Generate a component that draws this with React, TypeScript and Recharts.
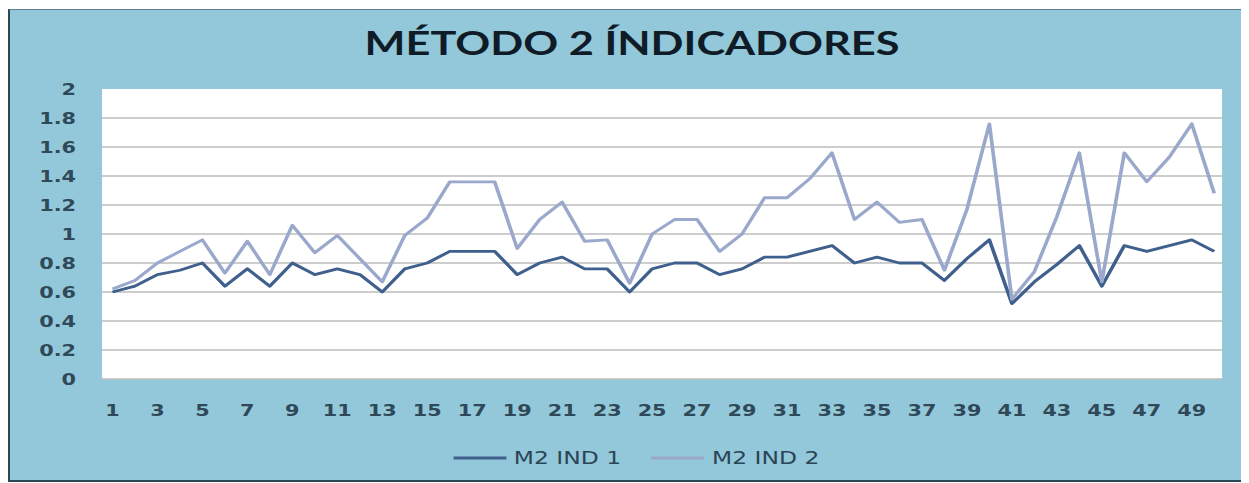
import React from 'react';
import { LineChart, Line, XAxis, YAxis, CartesianGrid, Legend } from 'recharts';

const categories = [
  '1', '2', '3', '4', '5', '6', '7', '8', '9', '10',
  '11', '12', '13', '14', '15', '16', '17', '18', '19', '20',
  '21', '22', '23', '24', '25', '26', '27', '28', '29', '30',
  '31', '32', '33', '34', '35', '36', '37', '38', '39', '40',
  '41', '42', '43', '44', '45', '46', '47', '48', '49', '50',
];

const m2Ind1 = [
  0.6, 0.64, 0.72, 0.75, 0.8, 0.64, 0.76, 0.64, 0.8, 0.72,
  0.76, 0.72, 0.6, 0.76, 0.8, 0.88, 0.88, 0.88, 0.72, 0.8,
  0.84, 0.76, 0.76, 0.6, 0.76, 0.8, 0.8, 0.72, 0.76, 0.84,
  0.84, 0.88, 0.92, 0.8, 0.84, 0.8, 0.8, 0.68, 0.83, 0.96,
  0.52, 0.67, 0.79, 0.92, 0.64, 0.92, 0.88, 0.92, 0.96, 0.88,
];

const m2Ind2 = [
  0.62, 0.68, 0.8, 0.88, 0.96, 0.73, 0.95, 0.72, 1.06, 0.87,
  0.99, 0.83, 0.67, 0.99, 1.11, 1.36, 1.36, 1.36, 0.9, 1.1,
  1.22, 0.95, 0.96, 0.66, 1.0, 1.1, 1.1, 0.88, 1.0, 1.25,
  1.25, 1.38, 1.56, 1.1, 1.22, 1.08, 1.1, 0.75, 1.17, 1.76,
  0.55, 0.74, 1.12, 1.56, 0.67, 1.56, 1.36, 1.53, 1.76, 1.28,
];

const yTicks = [0, 0.2, 0.4, 0.6, 0.8, 1, 1.2, 1.4, 1.6, 1.8, 2];
const gridValues = [0, 0.2, 0.4, 0.6, 0.8, 1, 1.2, 1.4, 1.6, 1.8];

const seriesNames = ['M2 IND 1', 'M2 IND 2'];
const seriesColors = ['#3f5f8c', '#9aa8cc'];

const data = categories.map((c, i) => ({ x: c, ind1: m2Ind1[i], ind2: m2Ind2[i] }));

const S = 1.3;
const W0 = 1239 / S;
const H = 470;

const tickStyle = {
  fill: '#2f4959',
  fontSize: 16,
  fontFamily: '"DejaVu Sans", sans-serif',
  fontWeight: 700,
};

const LegendContent = () => (
  <div
    style={{
      display: 'flex',
      justifyContent: 'center',
      alignItems: 'center',
      height: 24,
      paddingLeft: 10,
      fontFamily: '"DejaVu Sans", sans-serif',
      fontSize: 18,
      color: '#2a4555',
    }}
  >
    {seriesNames.map((n, i) => (
      <div key={n} style={{ display: 'flex', alignItems: 'center', marginRight: i === 0 ? 23 : 0 }}>
        <svg width={41} height={6} style={{ marginRight: 6 }}>
          <line x1={0} y1={3} x2={41} y2={3} stroke={seriesColors[i]} strokeWidth={3} />
        </svg>
        <span style={{ lineHeight: '24px', whiteSpace: 'nowrap' }}>{n}</span>
      </div>
    ))}
  </div>
);

export default function App() {
  return (
    <div
      style={{
        width: 1241,
        height: 473,
        marginTop: 1,
        boxSizing: 'border-box',
        background: '#93c8da',
        borderLeft: '2px solid #2c4653',
        borderTop: '1px solid #5f7f8c',
        borderBottom: '2px solid #2c4653',
        position: 'relative',
        overflow: 'hidden',
      }}
    >
      <div
        style={{
          position: 'absolute',
          left: 0,
          top: 0,
          width: W0,
          height: H,
          transform: `scaleX(${S})`,
          transformOrigin: '0 0',
        }}
      >
        <svg width={W0} height={60} style={{ position: 'absolute', left: 0, top: 0 }}>
          <text
            x={478.5}
            y={45}
            textAnchor="middle"
            textLength={411.5}
            lengthAdjust="spacingAndGlyphs"
            style={{ fontFamily: 'Lato, "Open Sans", sans-serif', fontWeight: 700, fontSize: 32, fill: '#0f1c27' }}
          >
            MÉTODO 2 ÍNDICADORES
          </text>
        </svg>
        <LineChart width={W0} height={H} data={data} margin={{ top: 79, right: 20.7, bottom: 10, left: 0 }}>
          <CartesianGrid
            vertical={false}
            horizontalValues={gridValues}
            stroke="#bdbdbd"
            strokeWidth={1.5}
            fill="#ffffff"
            fillOpacity={1}
          />
          <XAxis
            dataKey="x"
            type="category"
            interval={1}
            height={67}
            axisLine={false}
            tickLine={false}
            tickSize={0}
            tickMargin={26}
            padding={{ left: 8, right: 6 }}
            tick={tickStyle}
          />
          <YAxis
            domain={[0, 2]}
            ticks={yTicks}
            width={70.8}
            axisLine={false}
            tickLine={false}
            tickSize={0}
            tickMargin={20}
            tick={tickStyle}
          />
          <Legend
            verticalAlign="bottom"
            content={<LegendContent />}
            wrapperStyle={{ left: 0, bottom: 10, width: W0, height: 24 }}
          />
          <Line
            type="linear"
            dataKey="ind1"
            name={seriesNames[0]}
            stroke={seriesColors[0]}
            strokeWidth={2.8}
            dot={false}
            activeDot={false}
            isAnimationActive={false}
            strokeLinejoin="round"
          />
          <Line
            type="linear"
            dataKey="ind2"
            name={seriesNames[1]}
            stroke={seriesColors[1]}
            strokeWidth={2.8}
            dot={false}
            activeDot={false}
            isAnimationActive={false}
            strokeLinejoin="round"
          />
        </LineChart>
      </div>
    </div>
  );
}
